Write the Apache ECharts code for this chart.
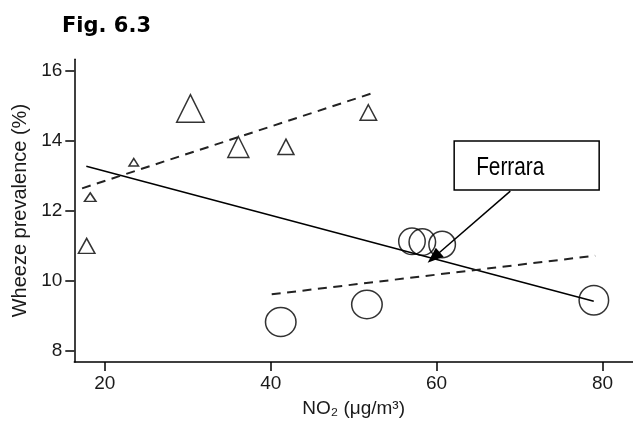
<!DOCTYPE html>
<html>
<head>
<meta charset="utf-8">
<script src="https://cdn.jsdelivr.net/npm/echarts@6/dist/echarts.min.js"></script>
<style>
  html, body { margin: 0; padding: 0; background: #fff; }
  #chart { width: 633px; height: 423px; }
</style>
</head>
<body>
<div id="chart"></div>
<script>
// ---- data ----
const triX = [17.81, 18.24, 23.49, 30.32, 36.1, 41.84, 51.77];
const triY = [10.93, 12.35, 13.35, 14.79, 13.72, 13.75, 14.73];
const circX = [41.21, 51.6, 57.03, 58.28, 60.67, 78.96];
const circY = [8.83, 9.33, 11.13, 11.11, 11.04, 9.45];
const solidX = [17.77, 78.95];
const solidY = [13.27, 9.42];
const dashUpperX = [17.26, 52.07];
const dashUpperY = [12.64, 15.34];
const dashLowerX = [40.12, 79.12];
const dashLowerY = [9.62, 10.72];
const xTicks = [20, 40, 60, 80];
const yTicks = [8, 10, 12, 14, 16];
const titleText = 'Fig. 6.3';
const xName = 'NO\u2082 (\u03bcg/m\u00b3)';
const yName = 'Wheeze prevalence (%)';
const annotationText = 'Ferrara';

// ---- styling (marker sizes in px, annotation anchors in data space) ----
const triSize = [[16.5,15],[11.5,8.5],[9.5,7.5],[27.5,27.5],[21,21],[16,15.5],[16.5,15.5]];
const circSize = [[30.5,29],[30.5,28.5],[26.5,26.5],[26.5,26.5],[26.5,26.5],[29.5,29.5]];
const boxCenter = [70.86, 13.29];
const arrowFrom = [68.89, 12.56];
const arrowTo = [59.65, 10.67];

const zip = (a, b) => a.map((v, i) => [v, b[i]]);
const FONT = 'Liberation Sans';

const chart = echarts.init(document.getElementById('chart'), null, {renderer: 'canvas'});
chart.setOption({
  animation: false,
  backgroundColor: '#fff',
  title: {
    text: titleText, left: 57, top: 11,
    textStyle: {fontFamily: 'DejaVu Sans', fontWeight: 'bold', fontSize: 21, color: '#000'}
  },
  grid: {left: 74.3, top: 59.3, bottom: 60.5, right: -16.1, containLabel: false},
  xAxis: {
    type: 'value', min: 16.32, max: 83.68,
    name: xName, nameLocation: 'middle', nameGap: 37,
    nameTextStyle: {fontFamily: FONT, fontSize: 19, color: '#1a1a1a'},
    axisLine: {onZero: false, lineStyle: {color: '#000', width: 1.5}},
    axisTick: {show: true, length: 9, customValues: xTicks, lineStyle: {color: '#000', width: 1.5}},
    axisLabel: {customValues: xTicks, margin: 12, fontFamily: FONT, fontSize: 19, color: '#1a1a1a'},
    splitLine: {show: false}
  },
  yAxis: {
    type: 'value', min: 7.69, max: 16.32,
    name: yName, nameLocation: 'middle', nameGap: 40,
    nameTextStyle: {fontFamily: FONT, fontSize: 20, color: '#1a1a1a'},
    axisLine: {onZero: false, lineStyle: {color: '#000', width: 1.5}},
    axisTick: {show: true, length: 9, customValues: yTicks, lineStyle: {color: '#000', width: 1.5}},
    axisLabel: {customValues: yTicks, margin: 12, fontFamily: FONT, fontSize: 19, color: '#1a1a1a'},
    splitLine: {show: false}
  },
  series: [
    {
      type: 'line', data: zip(solidX, solidY), symbol: 'none', silent: true,
      lineStyle: {color: '#000', width: 1.5, type: 'solid'},
      markLine: {
        silent: true, symbol: ['none', 'triangle'], symbolSize: [12, 16],
        label: {show: false},
        lineStyle: {color: '#000', width: 1.5, type: 'solid'},
        data: [[{coord: arrowFrom}, {coord: arrowTo}]]
      }
    },
    {
      type: 'line', data: zip(dashUpperX, dashUpperY), symbol: 'none', silent: true,
      lineStyle: {color: '#222', width: 2, type: [9, 6.5]}
    },
    {
      type: 'line', data: zip(dashLowerX, dashLowerY), symbol: 'none', silent: true,
      lineStyle: {color: '#222', width: 2, type: [9, 6.5]}
    },
    {
      type: 'scatter', silent: true,
      data: zip(triX, triY).map((p, i) => ({
        value: p, symbol: 'triangle', symbolSize: triSize[i],
        symbolOffset: [0, -triSize[i][1] / 6]
      })),
      itemStyle: {color: 'rgba(0,0,0,0)', borderColor: '#000', borderWidth: 1.5}
    },
    {
      type: 'scatter', silent: true,
      data: zip(circX, circY).map((p, i) => ({value: p, symbol: 'circle', symbolSize: circSize[i]})),
      itemStyle: {color: 'rgba(0,0,0,0)', borderColor: '#000', borderWidth: 1.5}
    }
  ]
});

// annotation box placed from its data-space anchor
const c = chart.convertToPixel({gridIndex: 0}, boxCenter);
chart.setOption({
  graphic: [
    {
      type: 'rect', silent: true, z: 100,
      shape: {x: c[0] - 72.5, y: c[1] - 24.5, width: 145, height: 49},
      style: {fill: '#fff', stroke: '#000', lineWidth: 1.5}
    },
    {
      type: 'text', silent: true, z: 101,
      x: c[0] - 50.5, y: c[1] + 2, scaleX: 0.8,
      style: {text: annotationText, fontFamily: FONT, fontSize: 26, fill: '#000',
        align: 'left', verticalAlign: 'middle'}
    }
  ]
});
</script>
</body>
</html>
